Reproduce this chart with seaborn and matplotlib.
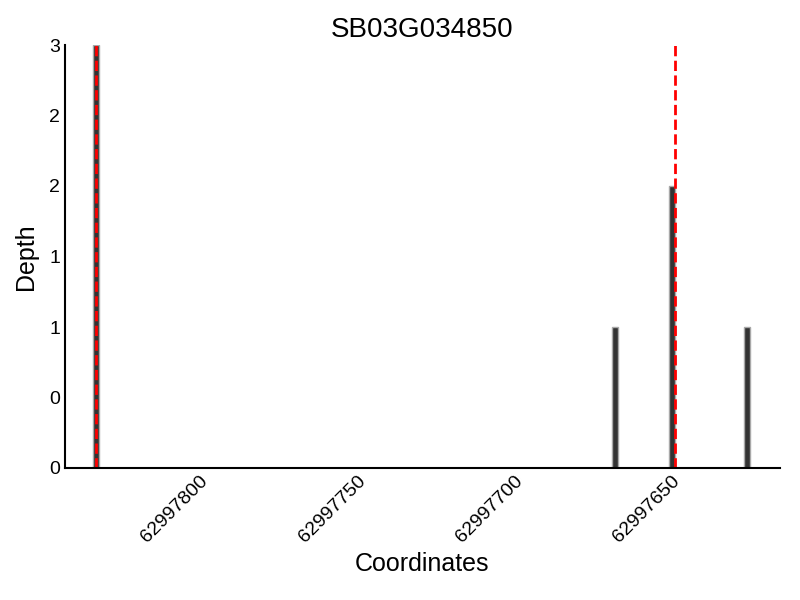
import numpy as np
import pandas as pd
import matplotlib
matplotlib.use("Agg")
import matplotlib.pyplot as plt
import matplotlib.ticker as mticker
import seaborn as sns

# data
coords = [62997825, 62997660, 62997642, 62997618]
depth = [3, 1, 2, 1]
gene_bounds = [62997825, 62997641]
x_ticks = [62997800, 62997750, 62997700, 62997650]

sns.set_style("white")
plt.rcParams["font.family"] = ["Liberation Sans", "DejaVu Sans"]
plt.rcParams["text.color"] = "black"
plt.rcParams["axes.labelcolor"] = "black"

df = pd.DataFrame({"Coordinates": coords, "Depth": depth})

fig, ax = plt.subplots(figsize=(8, 6), dpi=100)
fig.subplots_adjust(left=0.081, right=0.975, top=0.925, bottom=0.22)

bar_w = 1.8
min_gap = np.diff(np.sort(coords)).min()
sns.barplot(data=df, x="Coordinates", y="Depth", native_scale=True, orient="x",
            width=bar_w / min_gap, color="#333333", saturation=1,
            edgecolor="#a8a8a8", linewidth=1, ax=ax)

for b in gene_bounds:
    ax.axvline(b, color="red", linestyle="--", linewidth=2)

ax.set_xlim(62997835.0, 62997607.6)
ax.set_ylim(0, 3)
ax.set_xticks(x_ticks)
ax.xaxis.set_major_formatter(mticker.FormatStrFormatter("%d"))
ax.set_yticks(np.arange(0, 3.5, 0.5))
ax.yaxis.set_major_formatter(mticker.FormatStrFormatter("%d"))

sns.despine(ax=ax)
for s in ["left", "bottom"]:
    ax.spines[s].set_color("black")
    ax.spines[s].set_linewidth(1.5)
ax.tick_params(direction="in", length=5, width=1, labelsize=14, colors="black")
ax.tick_params(axis="x", rotation=45)
for lbl in ax.get_xticklabels():
    lbl.set_ha("center")

ax.set_xlabel("Coordinates", fontsize=18)
ax.set_ylabel("Depth", fontsize=18, labelpad=8)
ax.set_title("SB03G034850", fontsize=20)

fig.savefig("out.png", dpi=100)
